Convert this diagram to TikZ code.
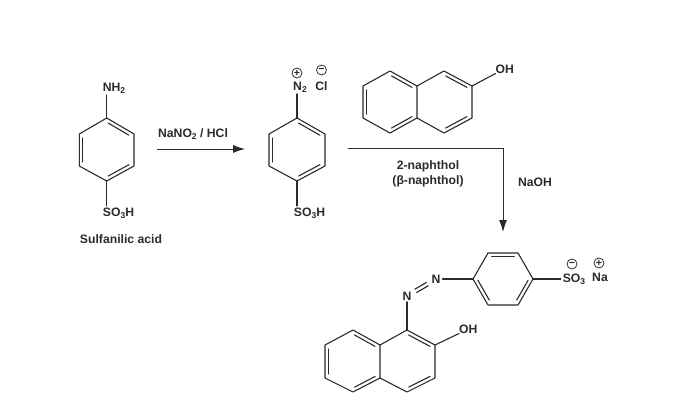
\documentclass[tikz,border=0pt]{standalone}
\usepackage{fontspec}
\setmainfont{Liberation Sans}
\usetikzlibrary{calc,arrows.meta}
\definecolor{ink}{HTML}{2B2B2B}
\newcommand{\lowsub}[1]{\raisebox{-2.2pt}{\fontsize{8.5}{9}\selectfont\bfseries #1}}
\newcommand{\ibond}[2]{\draw[bondline] ($(#1)!0.12!(#2)!3.6pt!-90:(#2)$) -- ($(#2)!0.12!(#1)!3.6pt!90:(#1)$);}
\newcommand{\hexring}[6]{\draw[bondline] (#1)--(#2)--(#3)--(#4)--(#5)--(#6)--cycle;}
\tikzset{
  bondline/.style={draw=ink,line width=1.1pt,line cap=round,line join=round},
  label/.style={font=\fontsize{12.2}{14}\selectfont\bfseries,text=ink,inner sep=0pt},
  charge/.style={circle,draw=ink,line width=0.75pt,minimum size=10pt,inner sep=0pt,text=ink,font=\fontsize{10.5}{10.5}\selectfont\bfseries},
  flow/.style={draw=ink,line width=1pt,-{Latex[length=12pt,width=8pt]}}
}
\begin{document}
\begin{tikzpicture}[x=1pt,y=-1pt]
\useasboundingbox (0,0) rectangle (700,401);
\fill[white] (0,0) rectangle (700,401);

% sulfanilic acid
\coordinate (aa) at (106.7,118);
\coordinate (ab) at (134,134);
\coordinate (ac) at (134,166);
\coordinate (ad) at (106.7,181);
\coordinate (ae) at (79.3,166);
\coordinate (af) at (79.3,134);
\hexring{aa}{ab}{ac}{ad}{ae}{af}
\ibond{aa}{ab}\ibond{ac}{ad}\ibond{ae}{af}
\node[label] (nh2) at (114,88) {NH\lowsub{2}};
\node[label] (so3a) at (118.5,213) {SO\lowsub{3}H};
\draw[bondline,shorten >=1.5pt] (aa) -- (nh2.south -| aa);
\draw[bondline,shorten >=1.5pt] (ad) -- (ad |- so3a.north);
\node[label] (sulf) at (121,239) {Sulfanilic acid};

% first arrow
\coordinate (arrowAs) at (157,149);
\coordinate (arrowAe) at (245,149);
\draw[flow] (arrowAs) -- (arrowAe);
\node[label] (nano) at (193,134) {NaNO\lowsub{2} / HCl};

% diazonium
\coordinate (ba) at (297,118);
\coordinate (bb) at (325,134);
\coordinate (bc) at (325,166);
\coordinate (bd) at (297,181);
\coordinate (be) at (269,166);
\coordinate (bf) at (269,134);
\hexring{ba}{bb}{bc}{bd}{be}{bf}
\ibond{ba}{bb}\ibond{bc}{bd}\ibond{be}{bf}
\node[label] (n2) at (300,87) {N\lowsub{2}};
\node[label] (cl) at (321.5,86.5) {Cl};
\node[charge] (pa) at (297,73) {+};
\node[charge] (ma) at (321.5,70) {−};
\node[label] (so3b) at (309.5,213) {SO\lowsub{3}H};
\draw[bondline,shorten >=1.5pt] (ba) -- (ba |- n2.south);
\draw[bondline,shorten >=1.5pt] (bd) -- (bd |- so3b.north);

% 2-naphthol
\coordinate (ca) at (390,71);
\coordinate (cb) at (417,86);
\coordinate (cc) at (417,118);
\coordinate (cd) at (390,133);
\coordinate (ce) at (363,118);
\coordinate (cf) at (363,86);
\coordinate (cg) at (444,71);
\coordinate (ch) at (472,86);
\coordinate (ci) at (472,118);
\coordinate (cj) at (444,133);
\hexring{ca}{cb}{cc}{cd}{ce}{cf}
\draw[bondline] (cb)--(cg)--(ch)--(ci)--(cj)--(cc);
\ibond{ca}{cb}\ibond{cc}{cd}\ibond{ce}{cf}\ibond{cg}{ch}\ibond{ci}{cj}
\node[label,anchor=west] (oha) at (495.5,69) {OH};
\draw[bondline] (ch) -- (oha.south west);

% second arrow
\coordinate (arrowBs) at (348,148);
\coordinate (arrowBm) at (503,148);
\coordinate (arrowBe) at (503,232);
\draw[flow] (arrowBs) -- (arrowBm) -- (arrowBe);
\node[label] (naph) at (428,166) {2-naphthol};
\node[label] (bnaph) at (428,181) {(β-naphthol)};
\node[label] (naoh) at (535,182) {NaOH};

% product: aryl ring
\coordinate (da) at (488,253);
\coordinate (db) at (518,253);
\coordinate (dc) at (533,279);
\coordinate (dd) at (518,305);
\coordinate (de) at (488,305);
\coordinate (df) at (473,279);
\hexring{da}{db}{dc}{dd}{de}{df}
\ibond{da}{db}\ibond{dc}{dd}\ibond{de}{df}
\node[label] (so3c) at (574,279.5) {SO\lowsub{3}};
\node[charge] (mb) at (572,264) {−};
\node[charge] (pb) at (599,263) {+};
\node[label] (na) at (600,277) {Na};
\draw[bondline,shorten >=2pt] (dc) -- (so3c.west |- dc);

% azo
\node[label] (nr) at (436,279) {N};
\node[label] (nl) at (407,296) {N};
\draw[bondline,shorten <=2pt] (nr.east) -- (df);
\draw[bondline] ($(nl)!0.3!(nr)!1.9pt!90:(nr)$) -- ($(nr)!0.3!(nl)!1.9pt!-90:(nl)$);
\draw[bondline] ($(nl)!0.3!(nr)!1.9pt!-90:(nr)$) -- ($(nr)!0.3!(nl)!1.9pt!90:(nl)$);

% product: naphthalene
\coordinate (ea) at (407,330);
\coordinate (eb) at (435,345);
\coordinate (ec) at (435,378);
\coordinate (ed) at (407,392);
\coordinate (ee) at (380,378);
\coordinate (ef) at (380,345);
\coordinate (eg) at (353,330);
\coordinate (eh) at (325,345);
\coordinate (ei) at (325,378);
\coordinate (ej) at (353,392);
\hexring{ea}{eb}{ec}{ed}{ee}{ef}
\draw[bondline] (ef)--(eg)--(eh)--(ei)--(ej)--(ee);
\ibond{ea}{eb}\ibond{ec}{ed}\ibond{eg}{ef}\ibond{ee}{ej}\ibond{ei}{eh}
\draw[bondline,shorten <=1.5pt] (nl.south) -- (ea);
\node[label,anchor=west] (ohb) at (459,329) {OH};
\draw[bondline] (eb) -- (ohb.south west);
\end{tikzpicture}
\end{document}
